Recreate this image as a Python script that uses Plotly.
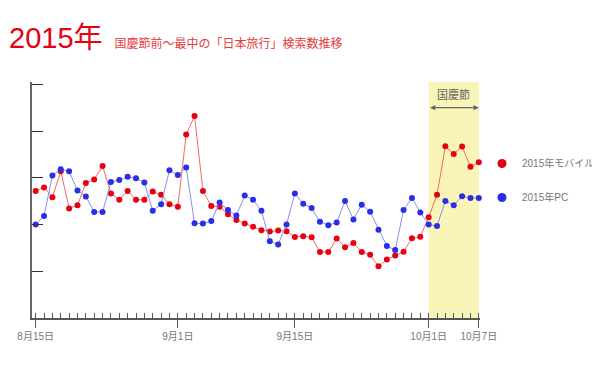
import plotly.graph_objects as go
import pandas as pd

# ---- data (arbitrary index scale 0-100) ----
dates = pd.date_range("2015-08-15", "2015-10-07", freq="D")
mobile = [54.4, 55.9, 51.7, 62.8, 46.9, 48.2, 57.8, 59.3, 65.1, 53.3,
          50.6, 54.4, 50.6, 50.6, 54.1, 52.7, 48.7, 47.6, 78.5, 86.5,
          54.4, 47.9, 47.6, 44.4, 41.9, 40.4, 39.1, 37.6, 37.0, 37.4,
          37.1, 34.7, 35.0, 34.6, 28.2, 28.2, 34.0, 30.3, 32.1, 28.2,
          27.1, 22.1, 25.0, 26.8, 28.4, 34.1, 34.8, 43.1, 52.7, 73.5,
          70.2, 73.4, 64.7, 66.7]
pc = [40.0, 43.7, 61.0, 63.7, 62.8, 54.6, 52.0, 45.4, 45.4, 58.2,
      59.1, 60.4, 59.8, 58.0, 45.9, 48.7, 63.2, 61.2, 64.4, 40.5,
      40.4, 41.5, 49.4, 46.2, 43.9, 52.4, 50.6, 45.9, 32.8, 31.5,
      40.0, 53.3, 48.9, 47.1, 41.2, 39.7, 40.9, 50.1, 42.2, 48.5,
      45.5, 37.8, 30.8, 29.1, 46.2, 51.4, 45.1, 40.0, 39.4, 50.1,
      48.3, 52.1, 51.4, 51.4]
series_names = ["2015年モバイル", "2015年PC"]
tick_dates = ["2015-08-15", "2015-09-01", "2015-09-15", "2015-10-01", "2015-10-07"]
tick_text = ["8月15日", "9月1日", "9月15日", "10月1日", "10月7日"]
holiday = ("2015-10-01", "2015-10-07")
holiday_label = "国慶節"
y_ticks = [20, 40, 60, 80, 100]

RED, RED_LINE = "#e60012", "#f26a6a"
BLUE, BLUE_LINE = "#2a2ee8", "#8c8ef2"
FONT = "Liberation Sans, Noto Sans CJK JP, sans-serif"

# page has an 8px body margin -> figure is 592x372
W, H = 592, 372

fig = go.Figure()
fig.add_trace(go.Scatter(x=dates, y=mobile, mode="lines+markers", name=series_names[0],
                         line=dict(color=RED_LINE, width=1),
                         marker=dict(color=RED, size=6), cliponaxis=False,
                         showlegend=False))
fig.add_trace(go.Scatter(x=dates, y=pc, mode="lines+markers", name=series_names[1],
                         line=dict(color=BLUE_LINE, width=1),
                         marker=dict(color=BLUE, size=6), cliponaxis=False,
                         showlegend=False))
# legend entries (dot only)
fig.add_trace(go.Scatter(x=[None], y=[None], mode="markers", name=series_names[0],
                         marker=dict(color=RED, size=9), legendgroup="a"))
fig.add_trace(go.Scatter(x=[None], y=[None], mode="markers", name=series_names[1],
                         marker=dict(color=BLUE, size=9), legendgroup="b"))

# holiday band
fig.add_shape(type="rect", xref="x", yref="y", x0=holiday[0], x1=holiday[1],
              y0=0, y1=101, fillcolor="#f9f4b8", line=dict(width=0), layer="below")
fig.add_annotation(x="2015-10-07", y=90, ax="2015-10-01", ay=90, xref="x", yref="y",
                   axref="x", ayref="y", text="", showarrow=True,
                   arrowside="end+start", arrowhead=2, arrowsize=0.8,
                   arrowwidth=1.3, arrowcolor="#666")
fig.add_annotation(x="2015-10-04", y=95.8, xref="x", yref="y", text=holiday_label,
                   showarrow=False, font=dict(size=11, color="#666", family=FONT))

fig.update_layout(
    width=W, height=H,
    margin=dict(l=24, r=120, t=74, b=62, autoexpand=False),
    plot_bgcolor="white", paper_bgcolor="white",
    font=dict(family=FONT),
    title=dict(text="2015年<span style='font-size:12px;color:#e8383d'>　国慶節前〜最中の「日本旅行」検索数推移</span>",
               x=1 / W, xanchor="left", y=1 - 30 / H, yanchor="middle",
               font=dict(size=29, color=RED, family=FONT)),
    legend=dict(xref="container", yref="container", x=474 / W, y=1 - 141 / H,
                xanchor="left", yanchor="top",
                font=dict(size=10, color="#777"), tracegroupgap=15,
                bgcolor="rgba(0,0,0,0)"),
    xaxis=dict(type="date", range=["2015-08-14 13:26", "2015-10-07 03:22"],
               showline=True, linecolor="#555", linewidth=1.5,
               tickmode="array", tickvals=tick_dates, ticktext=tick_text,
               ticks="outside", ticklen=8, tickcolor="#555", tickwidth=1.3,
               tickfont=dict(size=10, color="#777"),
               showgrid=False, zeroline=False,
               minor=dict(ticks="inside", ticklen=5, dtick=86400000,
                          tick0="2015-08-15", tickcolor="#555", tickwidth=1,
                          showgrid=False)),
    yaxis=dict(range=[0, 101], showline=True, linecolor="#666", linewidth=2,
               tickmode="array", tickvals=y_ticks, ticks="inside", ticklen=11,
               tickcolor="#333", tickwidth=1.3,
               showticklabels=False, showgrid=False, zeroline=False),
)

fig.write_html("out.html")
